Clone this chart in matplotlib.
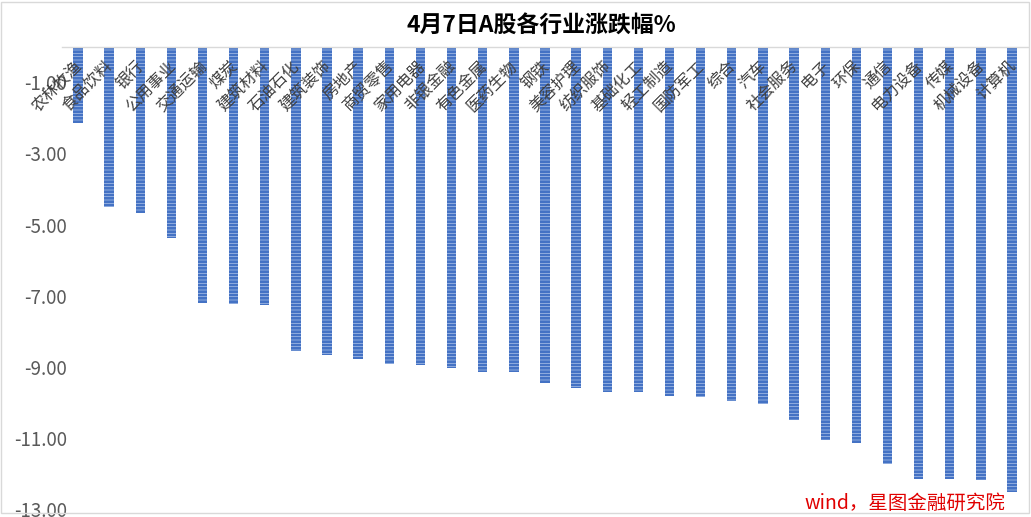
import matplotlib
matplotlib.use("Agg")
import matplotlib.pyplot as plt
from matplotlib.transforms import ScaledTranslation
from matplotlib.patches import Rectangle

plt.rcParams['font.family'] = ['Noto Sans CJK SC', 'DejaVu Sans']
plt.rcParams['hatch.linewidth'] = 2.0

categories = ["农林牧渔", "食品饮料", "银行", "公用事业", "交通运输", "煤炭", "建筑材料",
              "石油石化", "建筑装饰", "房地产", "商贸零售", "家用电器", "非银金融", "有色金属",
              "医药生物", "钢铁", "美容护理", "纺织服饰", "基础化工", "轻工制造", "国防军工",
              "综合", "汽车", "社会服务", "电子", "环保", "通信", "电力设备", "传媒",
              "机械设备", "计算机"]
values = [-2.15, -4.51, -4.67, -5.38, -7.19, -7.23, -7.25, -8.56, -8.65, -8.77,
          -8.92, -8.94, -9.02, -9.13, -9.15, -9.46, -9.58, -9.69, -9.71, -9.81,
          -9.83, -9.96, -10.04, -10.49, -11.05, -11.13, -11.72, -12.14, -12.14,
          -12.17, -12.50]
yticks = [-1, -3, -5, -7, -9, -11, -13]
title = "4月7日A股各行业涨跌幅%"
source = "wind，星图金融研究院"

fig = plt.figure(figsize=(10.31, 5.17), dpi=100)
ax = fig.add_axes([0.0605, 0.0147, 0.9362, 0.8952])

x = list(range(len(categories)))
ax.bar(x, values, width=0.3, facecolor='#c9d8f2', edgecolor='#4472C4',
       linewidth=0, hatch='-----')

ax.set_xlim(-0.5, len(categories) - 0.5)
ax.set_ylim(-13, 0)
ax.set_yticks(yticks)
ax.set_yticklabels([f"{v:.2f}" for v in yticks])
ax.tick_params(axis='y', length=0, pad=-3.5, labelsize=13.5, labelcolor='#595959')
ax.set_xticks([])
for s in ['left', 'right', 'bottom']:
    ax.spines[s].set_visible(False)
ax.spines['top'].set_color('#d9d9d9')
ax.spines['top'].set_linewidth(1.0)
ax.patch.set_alpha(0)

trans = ax.get_xaxis_transform() + ScaledTranslation(1.5 / 100, -17 / 100, fig.dpi_scale_trans)
for i, c in zip(x, categories):
    ax.text(i, 1, c, transform=trans, rotation=45, rotation_mode='anchor',
            ha='right', va='center', fontsize=11.5, color='#404040')

fig.text(0.525, 0.950, title, ha='center', va='center', fontsize=16.5,
         fontweight='bold', color='black')
fig.text(0.78, 0.027, source, ha='left', va='center', fontsize=14,
         style='italic', color='#e00000')

fig.patches.append(Rectangle((0.001, 0.008), 0.997, 0.989, transform=fig.transFigure,
                             fill=False, edgecolor='#d9d9d9', linewidth=1.0))

fig.savefig("out.png", dpi=100)
